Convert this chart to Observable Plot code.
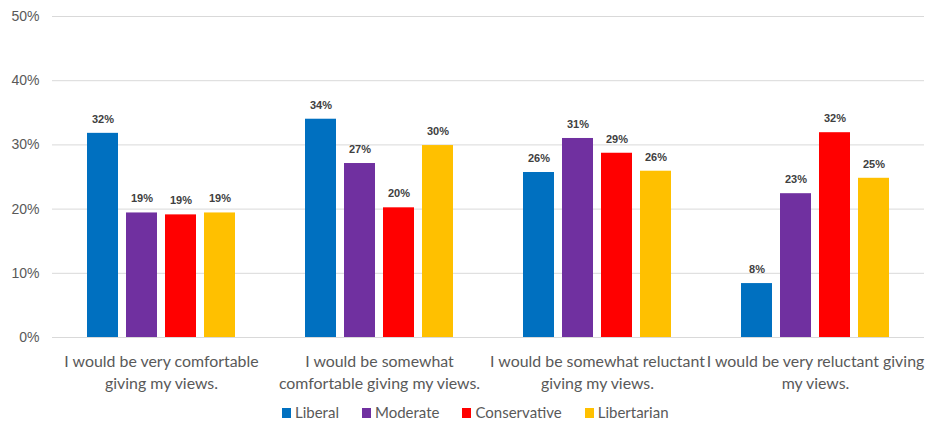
<!DOCTYPE html>
<html>
<head>
<meta charset="utf-8">
<script src="https://cdn.jsdelivr.net/npm/d3@7"></script>
<script src="https://cdn.jsdelivr.net/npm/@observablehq/plot@0.6"></script>
<style>
  body { margin: 0; background: #fff; }
  #chart { width: 929px; height: 421px; position: relative; }
  .legend { position: absolute; left: 282px; top: 403px; height: 18px; line-height: 18px; display: flex; align-items: center;
    font-family: Lato, "Open Sans", sans-serif; font-size: 15px; color: #595959; }
  .legend span.item { display: flex; align-items: center; margin-right: 23px; }
  .legend span.sw { width: 9px; height: 10px; display: inline-block; margin-right: 4px; margin-top: 2px; }
</style>
</head>
<body>
<div id="chart"></div>
<script>
const categories = ["veryComfortable", "somewhatComfortable", "somewhatReluctant", "veryReluctant"];
const categoryLabels = [
  "I would be very comfortable\ngiving my views.",
  "I would be somewhat\ncomfortable giving my views.",
  "I would be somewhat reluctant\ngiving my views.",
  "I would be very reluctant giving\nmy views."
];
const parties = ["Liberal", "Moderate", "Conservative", "Libertarian"];
const colors = ["#0070C0", "#7030A0", "#FF0000", "#FFC000"];
const liberal = [31.8, 34.0, 25.7, 8.4];
const moderate = [19.4, 27.1, 31.0, 22.4];
const conservative = [19.1, 20.2, 28.7, 31.9];
const libertarian = [19.4, 29.9, 25.9, 24.8];
const valueLabels = {
  Liberal: ["32%", "34%", "26%", "8%"],
  Moderate: ["19%", "27%", "31%", "23%"],
  Conservative: ["19%", "20%", "29%", "32%"],
  Libertarian: ["19%", "30%", "26%", "25%"]
};
const yTicks = [0, 10, 20, 30, 40, 50];

const series = {Liberal: liberal, Moderate: moderate, Conservative: conservative, Libertarian: libertarian};
const data = [];
categories.forEach((c, i) => {
  parties.forEach(p => {
    data.push({category: c, party: p, value: series[p][i], label: valueLabels[p][i]});
  });
});
const labelOf = Object.fromEntries(categories.map((c, i) => [c, categoryLabels[i]]));

const plot = Plot.plot({
  width: 929,
  height: 396,
  marginLeft: 50,
  marginRight: 4,
  marginTop: 16,
  marginBottom: 59,
  style: {fontFamily: "Lato, 'Open Sans', sans-serif", background: "#fff"},
  fx: {domain: categories, padding: 0, label: null},
  x: {domain: parties, paddingInner: 0.2, paddingOuter: 0.88, axis: null},
  y: {domain: [0, 50], label: null},
  color: {domain: parties, range: colors},
  marks: [
    Plot.gridY(yTicks, {stroke: "#d9d9d9", strokeOpacity: 1, strokeWidth: 1}),
    Plot.barY(data, {fx: "category", x: "party", y: "value", fill: "party"}),
    Plot.text(data, {fx: "category", x: "party", y: "value", text: "label", dy: -14,
      fontSize: 11, fontWeight: "bold", fill: "#404040", fontFamily: "'Liberation Sans', Arial, sans-serif"}),
    Plot.axisY(yTicks, {tickSize: 0, tickPadding: 13, tickFormat: d => d + "%", fontSize: 14,
      fontFamily: "'Liberation Sans', Arial, sans-serif", color: "#595959", label: null}),
    Plot.axisFx({anchor: "bottom", tickSize: 0, tickPadding: 14, tickFormat: d => labelOf[d],
      fontSize: 15.9, lineHeight: 1.38, color: "#595959", label: null})
  ]
});
const chart = document.getElementById("chart");
chart.appendChild(plot);

const legend = document.createElement("div");
legend.className = "legend";
parties.forEach((p, i) => {
  const item = document.createElement("span");
  item.className = "item";
  const sw = document.createElement("span");
  sw.className = "sw";
  sw.style.background = colors[i];
  item.appendChild(sw);
  item.appendChild(document.createTextNode(p));
  legend.appendChild(item);
});
chart.appendChild(legend);
</script>
</body>
</html>
